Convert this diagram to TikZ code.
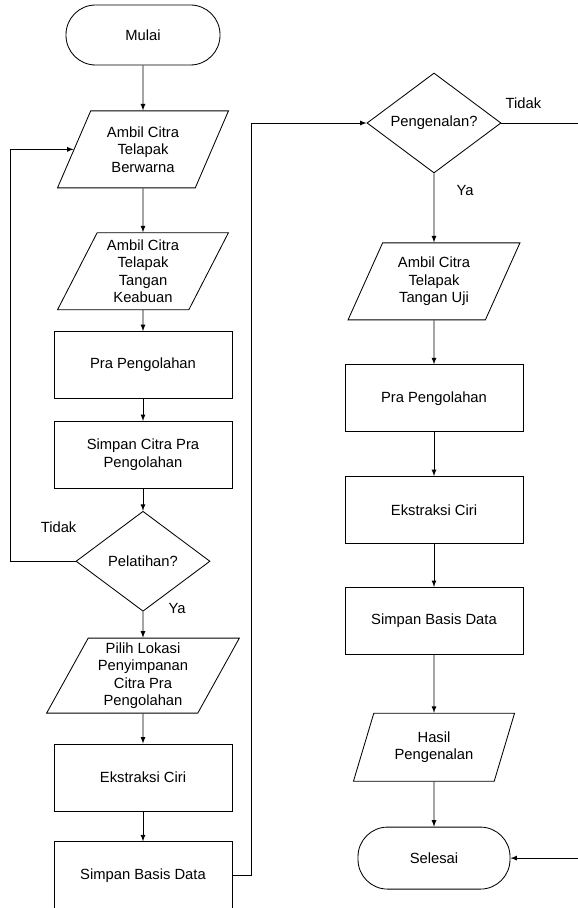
\documentclass[tikz,border=0pt]{standalone}
\usepackage{fontspec}
\setmainfont{Liberation Sans}
\usepackage{tikz}
\usetikzlibrary{shapes.geometric, arrows, positioning, calc}

\begin{document}
\begin{tikzpicture}[font=\fontsize{10.5}{12.5}\selectfont, line width=0.6pt]
    \tikzstyle{terminal} = [rectangle, rounded corners=0.74cm, minimum width=3.85cm, minimum height=1.5cm, text centered, draw=black]
    \tikzstyle{io} = [trapezium, trapezium left angle=64, trapezium right angle=116, trapezium stretches=true, minimum width=4.3cm, minimum height=1.925cm, inner sep=1pt, align=center, draw=black]
    \tikzstyle{process} = [rectangle, minimum width=4.45cm, minimum height=1.675cm, align=center, draw=black]
    \tikzstyle{decision} = [diamond, aspect=1.34, inner sep=0pt, minimum width=3.35cm, minimum height=2.5cm, text centered, draw=black]
    \tikzstyle{arrow} = [->,>=latex]

    \useasboundingbox (0,0) rectangle (14.425,-22.7);

    % Pelatihan
    \node (mulai) [terminal] at (3.575,-0.875) {Mulai};
    \node (ambil1) [io, below=1.125cm of mulai] {Ambil Citra\\Telapak\\Berwarna};
    \node (ambil2) [io, below=1.1cm of ambil1] {Ambil Citra\\Telapak\\Tangan\\Keabuan};
    \node (pra1) [process, below=0.525cm of ambil2] {Pra Pengolahan};
    \node (simpancitra) [process, below=0.55cm of pra1] {Simpan Citra Pra\\Pengolahan};
    \node (pelatihan) [decision, below=0.55cm of simpancitra] {Pelatihan?};
    \node (lokasi) [io, below=0.65cm of pelatihan, minimum width=4.825cm, minimum height=1.875cm, trapezium left angle=63, trapezium right angle=117] {Pilih Lokasi\\Penyimpanan\\Citra Pra\\Pengolahan};
    \node (ciri1) [process, below=0.75cm of lokasi] {Ekstraksi Ciri};
    \node (basis1) [process, below=0.75cm of ciri1] {Simpan Basis Data};

    % Pengenalan
    \node (pengenalan) [decision] at (10.85,-3.075) {Pengenalan?};
    \node (ambil3) [io, below=1.725cm of pengenalan] {Ambil Citra\\Telapak\\Tangan Uji};
    \node (pra2) [process, below=1.1cm of ambil3] {Pra Pengolahan};
    \node (ciri2) [process, below=1.1cm of pra2] {Ekstraksi Ciri};
    \node (basis2) [process, below=1.075cm of ciri2] {Simpan Basis Data};
    \node (hasil) [io, below=1.45cm of basis2, minimum width=4.05cm, minimum height=1.7cm, trapezium left angle=68, trapezium right angle=112] {Hasil\\Pengenalan};
    \node (selesai) [terminal, below=1.125cm of hasil, minimum width=3.8cm, minimum height=1.55cm] {Selesai};

    \coordinate (loopL) at (0.25,0);
    \coordinate (edgeR) at (14.6,0);

    % Connections
    \draw [arrow] (mulai) -- (ambil1);
    \draw [arrow] (ambil1) -- (ambil2);
    \draw [arrow] (ambil2) -- (pra1);
    \draw [arrow] (pra1) -- (simpancitra);
    \draw [arrow] (simpancitra) -- (pelatihan);
    \draw [arrow] (pelatihan) -- (lokasi);
    \draw [arrow] (lokasi) -- (ciri1);
    \draw [arrow] (ciri1) -- (basis1);
    \draw [arrow] (pelatihan.west) -- (pelatihan.west -| loopL) |- (ambil1.west);
    \draw [arrow] (basis1.east) -- ++(0.475,0) |- (pengenalan.west);

    \draw [arrow] (pengenalan) -- (ambil3);
    \draw [arrow] (ambil3) -- (pra2);
    \draw [arrow] (pra2) -- (ciri2);
    \draw [arrow] (ciri2) -- (basis2);
    \draw [arrow] (basis2) -- (hasil);
    \draw [arrow] (hasil) -- (selesai);
    \draw (pengenalan.east) -- (pengenalan.east -| edgeR);
    \draw [arrow] (selesai.east -| edgeR) -- (selesai.east);

    % Labels
    \node at ($(pelatihan.west)+(-0.425,0.85)$) {Tidak};
    \node at ($(pelatihan.south)+(0.85,0.075)$) {Ya};
    \node at ($(pengenalan.east)+(0.55,0.5)$) {Tidak};
    \node at ($(pengenalan.south)+(0.775,-0.425)$) {Ya};
\end{tikzpicture}
\end{document}
